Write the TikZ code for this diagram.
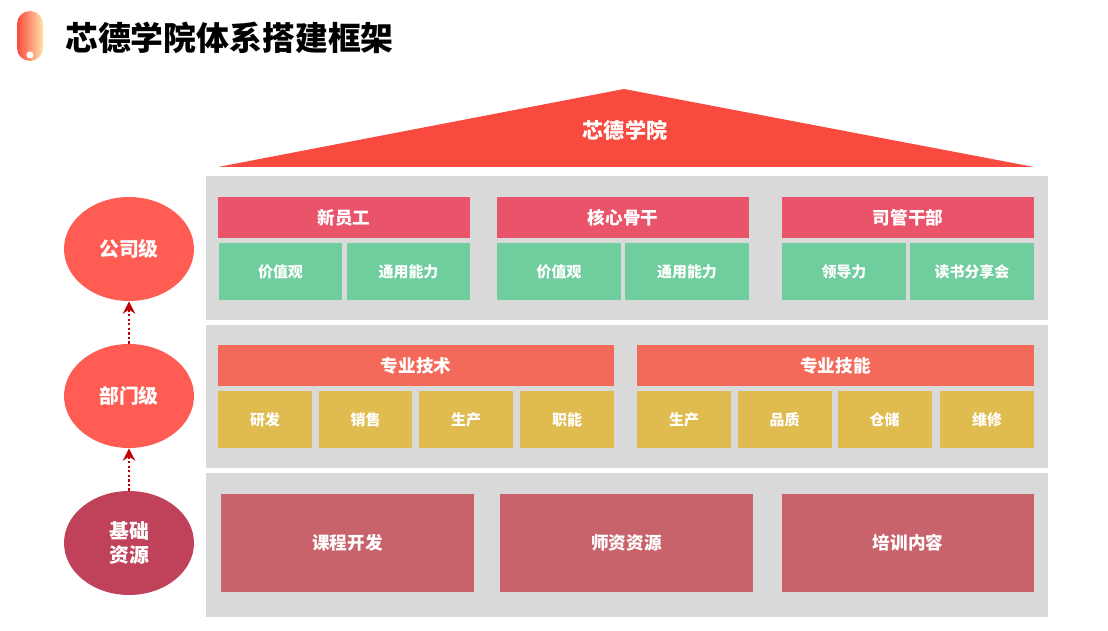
\documentclass[tikz,border=0pt]{standalone}
\usepackage{fontspec}
\setmainfont{Noto Sans CJK SC}
\usetikzlibrary{shapes.geometric,arrows.meta}
\definecolor{roofred}{HTML}{F94A3F}
\definecolor{iconpale}{HTML}{FFE3A8}
\definecolor{panelgray}{HTML}{D9D9D9}
\definecolor{headpink}{HTML}{E9546B}
\definecolor{subgreen}{HTML}{70CD9E}
\definecolor{headsalmon}{HTML}{F46A5A}
\definecolor{subyellow}{HTML}{E0BB4F}
\definecolor{baserose}{HTML}{C9636B}
\definecolor{lvlred}{HTML}{FF5C54}
\definecolor{lvlwine}{HTML}{C0415A}
\definecolor{arrred}{HTML}{C00000}
\begin{document}
\begin{tikzpicture}[x=0.02cm, y=-0.02cm, every node/.style={font=\bfseries},
  panel/.style={fill=panelgray,minimum width=16.84cm,minimum height=2.88cm,inner sep=0pt},
  head/.style={text=white,minimum height=0.82cm,inner sep=0pt,font=\fontsize{10}{12}\selectfont\bfseries},
  sub/.style={text=white,minimum height=1.14cm,inner sep=0pt,font=\fontsize{8.5}{10}\selectfont\bfseries},
  lvl/.style={ellipse,text=white,minimum width=2.6cm,minimum height=2.08cm,inner sep=0pt,align=center,font=\fontsize{11.3}{13.5}\selectfont\bfseries},
  uparr/.style={-{Stealth[length=7pt,width=7pt]},line width=1.5pt,dash pattern=on 1.3pt off 1.3pt,arrred}]
  \useasboundingbox (0,0) rectangle (1108,631);
  % title
  \shade[left color=roofred, right color=iconpale, rounded corners=0.26cm] (17,11) rectangle (43,61);
  \fill[white] (30,55) circle (0.07cm);
  \node[anchor=west,font=\fontsize{18.7}{22}\selectfont\bfseries] (title) at (59,38) {芯德学院体系搭建框架};
  % roof
  \fill[roofred] (218,167) -- (624,89) -- (1034,167) -- cycle;
  \node[text=white,font=\fontsize{12}{14}\selectfont\bfseries] (roof) at (625,130) {芯德学院};
  % gray panels
  \node[panel] (p1) at (627,248) {};
  \node[panel,minimum height=2.86cm] (p2) at (627,396.5) {};
  \node[panel] (p3) at (627,545) {};
  % company level
  \node[head,fill=headpink,minimum width=5.04cm] (h1) at (344,217.5) {新员工};
  \node[head,fill=headpink,minimum width=5.04cm] (h2) at (623,217.5) {核心骨干};
  \node[head,fill=headpink,minimum width=5.04cm] (h3) at (908,217.5) {司管干部};
  \foreach \x/\t [count=\i] in {280.5/价值观,408.5/通用能力,559/价值观,687/通用能力,844/领导力,972/读书分享会}
    \node[sub,fill=subgreen,minimum width=2.48cm] (g\i) at (\x,271.5) {\t};
  % department level
  \node[head,fill=headsalmon,minimum width=7.92cm] (h4) at (416,365.5) {专业技术};
  \node[head,fill=headsalmon,minimum width=7.94cm] (h5) at (835.5,365.5) {专业技能};
  \foreach \x/\t [count=\i] in {265/研发,365.5/销售,466/生产,567/职能,684/生产,784.5/品质,884.5/仓储,987/维修}
    \node[sub,fill=subyellow,minimum width=1.88cm] (y\i) at (\x,419.5) {\t};
  % base resources
  \node[head,fill=baserose,minimum width=5.06cm,minimum height=1.96cm] (r1) at (347.5,543) {课程开发};
  \node[head,fill=baserose,minimum width=5.06cm,minimum height=1.96cm] (r2) at (626.5,543) {师资资源};
  \node[head,fill=baserose,minimum width=5.04cm,minimum height=1.96cm] (r3) at (908,543) {培训内容};
  % levels
  \node[lvl,fill=lvlred] (comp) at (129,249) {公司级};
  \node[lvl,fill=lvlred] (dept) at (129,396) {部门级};
  \node[lvl,fill=lvlwine] (base) at (129,543) {基础\\资源};
  \draw[uparr] (dept) -- (comp);
  \draw[uparr] (base) -- (dept);
\end{tikzpicture}
\end{document}
